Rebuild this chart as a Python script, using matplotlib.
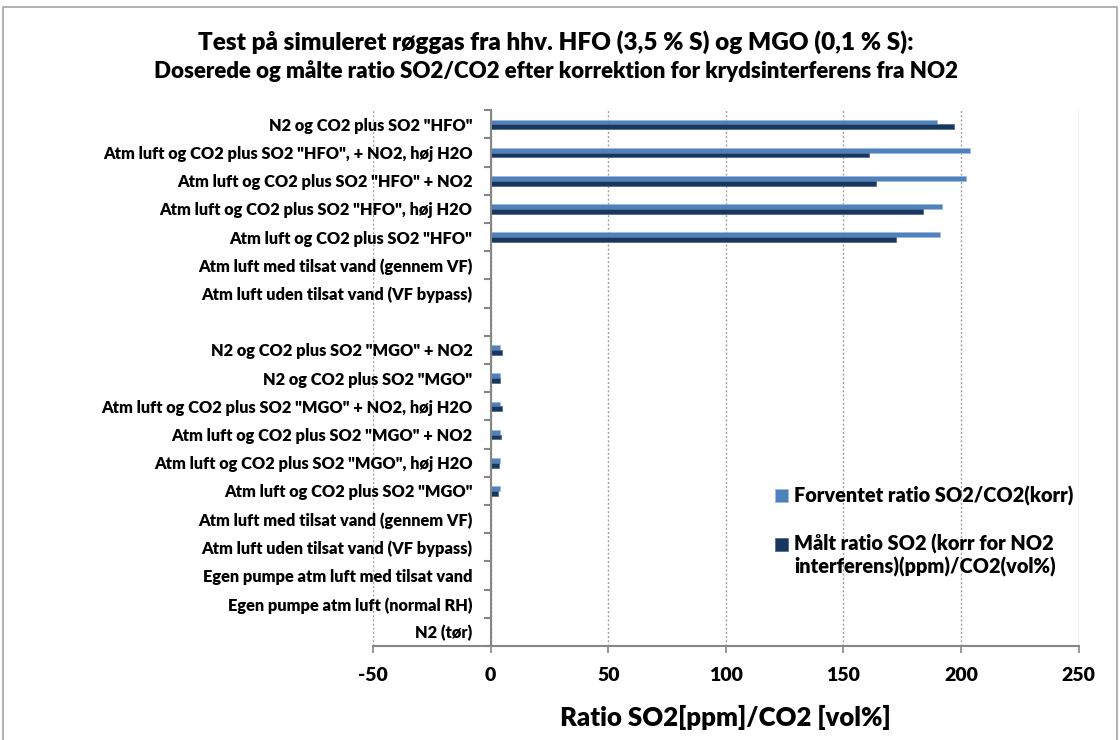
import numpy as np
import matplotlib
matplotlib.use('Agg')
import matplotlib.pyplot as plt
from matplotlib.patches import Rectangle

# Kategorier oppefra og ned (tom plads mellem HFO- og MGO-blokken)
kategorier = [
    'N2 og CO2 plus SO2 "HFO"',
    'Atm luft og CO2 plus SO2 "HFO", + NO2, høj H2O',
    'Atm luft og CO2 plus SO2 "HFO" + NO2',
    'Atm luft og CO2 plus SO2 "HFO", høj H2O',
    'Atm luft og CO2 plus SO2 "HFO"',
    'Atm luft med tilsat vand (gennem VF)',
    'Atm luft uden tilsat vand (VF bypass)',
    '',
    'N2 og CO2 plus SO2 "MGO" + NO2',
    'N2 og CO2 plus SO2 "MGO"',
    'Atm luft og CO2 plus SO2 "MGO" + NO2, høj H2O',
    'Atm luft og CO2 plus SO2 "MGO" + NO2',
    'Atm luft og CO2 plus SO2 "MGO", høj H2O',
    'Atm luft og CO2 plus SO2 "MGO"',
    'Atm luft med tilsat vand (gennem VF)',
    'Atm luft uden tilsat vand (VF bypass)',
    'Egen pumpe atm luft med tilsat vand',
    'Egen pumpe atm luft (normal RH)',
    'N2 (tør)',
]

forventet = [190, 204, 202, 192, 191, 0, 0, 0,
             4.0, 4.0, 4.0, 4.0, 4.2, 4.2, 0, 0, 0, 0, 0]
maalt = [197, 161, 164, 184, 172.5, 0, 0, 0,
         4.7, 4.0, 4.7, 4.5, 3.5, 3.1, 0, 0, 0, 0, 0]

navn_forventet = 'Forventet ratio SO2/CO2(korr)'
navn_maalt = 'Målt ratio SO2 (korr for NO2\ninterferens)(ppm)/CO2(vol%)'

x_ticks = [-50, 0, 50, 100, 150, 200, 250]

VAEGT = 'heavy'
plt.rcParams['font.family'] = ['Lato', 'DejaVu Sans']
plt.rcParams['font.weight'] = VAEGT

fig = plt.figure(figsize=(11.2, 7.4), dpi=100)
ax = fig.add_axes([0.333, 0.127, 0.630, 0.724])

n = len(kategorier)
y = np.arange(n)[::-1].astype(float)
h = 0.17

ax.barh(y + h / 2, forventet, height=h, color='#4F81BD', edgecolor='#9DB9DE',
        linewidth=0.5, label=navn_forventet, zorder=3)
ax.barh(y - h / 2, maalt, height=h, color='#17375E', edgecolor='#4A6488',
        linewidth=0.5, label=navn_maalt, zorder=3)

ax.set_xlim(-50, 250)
ax.set_ylim(-0.5, n - 0.5)

# x-akse
ax.set_xticks(x_ticks)
ax.set_xticklabels([str(v) for v in x_ticks], fontsize=14, fontweight=VAEGT)
ax.tick_params(axis='x', direction='out', length=5, color='#868686', width=1.2, pad=10)
ax.xaxis.grid(True, linestyle=(0, (1.5, 1.5)), color='#A0A0A0', linewidth=1)
ax.set_axisbelow(True)
ax.set_xlabel('Ratio SO2[ppm]/CO2 [vol%]', fontsize=18.5, fontweight=VAEGT, labelpad=15)

# y-akse ved x = 0
ax.spines['left'].set_position(('data', 0))
ax.spines['left'].set_color('#868686')
ax.spines['left'].set_linewidth(1.5)
ax.spines['left'].set_zorder(4)
ax.spines['bottom'].set_color('#868686')
ax.spines['bottom'].set_linewidth(1.5)
ax.spines['top'].set_visible(False)
ax.spines['right'].set_visible(False)

ax.set_yticks(y)
ax.set_yticklabels(kategorier, fontsize=11.8, fontweight=VAEGT)
ax.set_yticks(np.arange(n + 1) - 0.5, minor=True)
ax.tick_params(axis='y', which='major', length=0, pad=13)
ax.tick_params(axis='y', which='minor', direction='out', length=5, color='#868686', width=1.5)

fs_leg = 14.3
leg = ax.legend(loc='upper left', bbox_to_anchor=(0.692, 0.343), bbox_transform=fig.transFigure,
                frameon=False, fontsize=fs_leg, handlelength=0.65, handleheight=0.65,
                handletextpad=0.3, labelspacing=1.4, borderpad=0, borderaxespad=0)
for t in leg.get_texts():
    t.set_fontweight(VAEGT)
# markøren for den todelte tekst ud for første linje
h2 = leg.legend_handles[1]
h2.set_y(h2.get_y() + 0.62 * fs_leg)

fig.text(0.496, 0.943, 'Test på simuleret røggas fra hhv. HFO (3,5 % S) og MGO (0,1 % S):',
         ha='center', va='center', fontsize=17.5, fontweight=VAEGT)
fig.text(0.496, 0.904, 'Doserede og målte ratio SO2/CO2 efter korrektion for krydsinterferens fra NO2',
         ha='center', va='center', fontsize=16, fontweight=VAEGT)

# ramme om diagramområdet
fig.patches.append(Rectangle((3 / 1120, -0.1), 1114 / 1120, 1.1 - 7 / 740,
                             transform=fig.transFigure, fill=False,
                             edgecolor='#A6A6A6', linewidth=1.2))

fig.savefig('out.png', dpi=100, facecolor='white')
